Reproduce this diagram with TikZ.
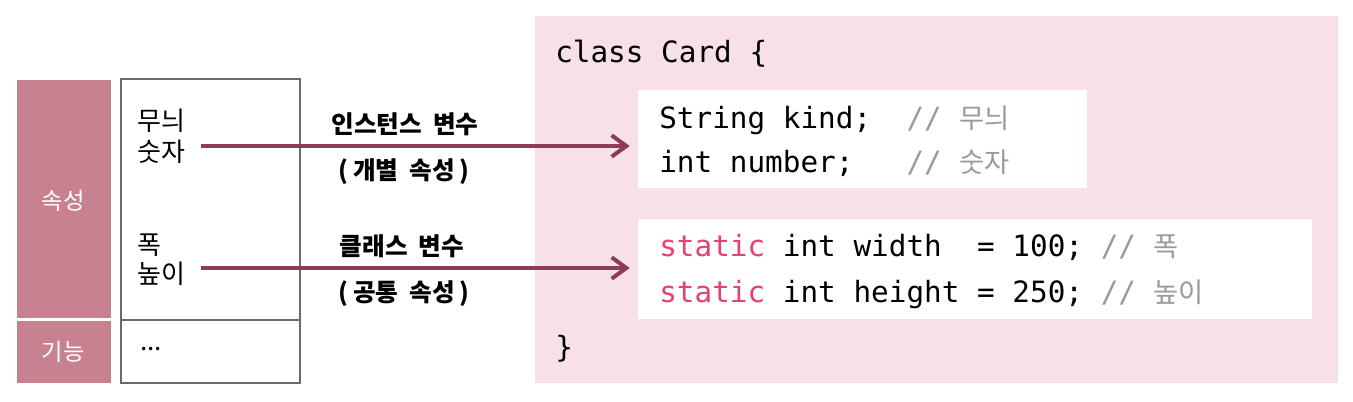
\documentclass[tikz,border=0pt]{standalone}
\usepackage{fontspec}
\setmainfont{Noto Sans CJK KR}
\newfontfamily\kr{Noto Sans CJK KR}
\newfontfamily\code{DejaVu Sans Mono}
\usetikzlibrary{arrows.meta,fit}
\definecolor{panelpink}{HTML}{F8E0E7}
\definecolor{sidepink}{HTML}{C8828F}
\definecolor{arrowc}{HTML}{8E3B57}
\definecolor{statc}{HTML}{E8406F}
\definecolor{cmt}{HTML}{9A9A9A}
\definecolor{frame}{HTML}{6A6A6A}
\tikzset{
  side/.style={fill=sidepink, draw=none, inner sep=0pt},
  sidetxt/.style={text=white, font=\kr\fontsize{17.5}{19}\selectfont, inner sep=0pt},
  attr/.style={anchor=west, font=\kr\fontsize{19.5}{21}\selectfont, inner sep=0pt},
  codeline/.style={anchor=base west, font=\code\fontsize{22}{26}\selectfont, inner sep=0pt},
  whitebox/.style={fill=white, draw=none, inner sep=0pt},
  arr/.style={draw=arrowc, line width=3pt, -{Straight Barb[length=11pt,width=16pt,line width=3pt]}, shorten >=8*0.75pt},
  albl/.style={font=\kr\bfseries\fontsize{18.5}{21}\selectfont, inner sep=0pt},
}
\newcommand{\kc}[1]{{\kr\fontsize{20.5}{22}\selectfont #1}}
\newcommand{\wsp}{\hspace{0.45em}}
\begin{document}
\begin{tikzpicture}[x=0.75pt,y=-0.75pt]
\useasboundingbox (0,0) rectangle (1353,401);
% right panel
\node[fit={(535,16) (1338,383)}, fill=panelpink, inner sep=0pt] (panel) {};
\node[fit={(638,90) (1087,188)}, whitebox] (box1) {};
\node[fit={(638,219) (1312,319)}, whitebox] (box2) {};
\node[codeline] (cls) at (555,62) {class~Card~\{};
\node[codeline] (l1) at (659,128) {String~kind;~~{\color{cmt}//~\kc{무늬}}};
\node[codeline] (l2) at (659,172) {int~number;~~~{\color{cmt}//~\kc{숫자}}};
\node[codeline] (l3) at (659,256) {{\color{statc}static}~int~width~~=~100;~{\color{cmt}//~\kc{폭}}};
\node[codeline] (l4) at (659,302) {{\color{statc}static}~int~height~=~250;~{\color{cmt}//~\kc{높이}}};
\node[codeline] (cb) at (555,357) {\}};
% left side
\node[fit={(17,80) (111,318)}, side] (attrbox) {};
\node[fit={(17,321) (111,383)}, side] (funcbox) {};
\node[sidetxt] (attrt) at (63,201) {속성};
\node[sidetxt] (funct) at (63,352) {기능};
\node[fit={(121,79) (300,383)}, draw=frame, line width=1.1pt, inner sep=0pt] (frm) {};
\coordinate (dl) at (121,320);
\coordinate (dr) at (300,320);
\draw[frame, line width=1.1pt] (dl) -- (dr);
\node[attr] (a1) at (137,121) {무늬};
\node[attr] (a2) at (137,152) {숫자};
\node[attr] (a3) at (137,245) {폭};
\node[attr] (a4) at (137,274) {높이};
\node[attr] (a5) at (140,349) {...};
% arrows
\coordinate (s1) at (201,146);
\coordinate (s2) at (201,268);
\draw[arr] (s1) -- (s1 -| box1.west);
\draw[arr] (s2) -- (s2 -| box2.west);
\node[albl] (lb1) at (405,124) {인스턴스\wsp 변수};
\node[albl] (lb2) at (404,172) {(\hspace{0.2em}개별\wsp 속성\hspace{0.2em})};
\node[albl] (lb3) at (402,246) {클래스\wsp 변수};
\node[albl] (lb4) at (404,294) {(\hspace{0.2em}공통\wsp 속성\hspace{0.2em})};
\end{tikzpicture}
\end{document}
